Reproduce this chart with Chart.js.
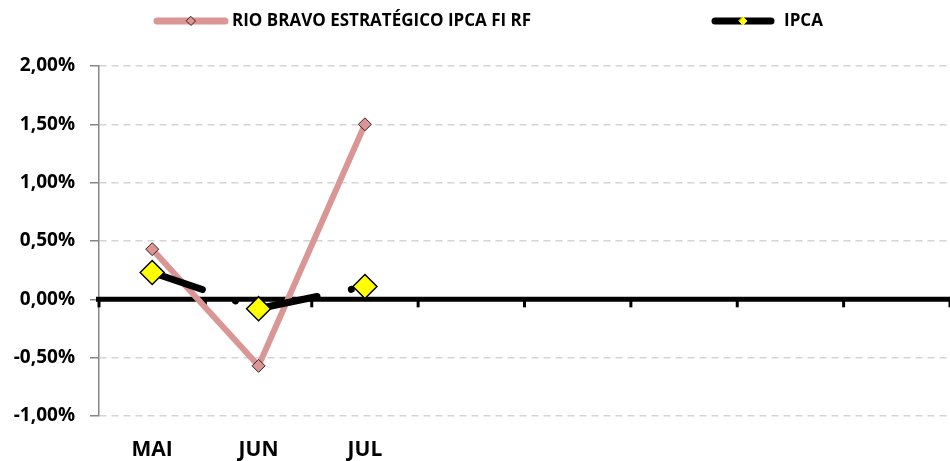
<!DOCTYPE html>
<html>
<head>
<meta charset="utf-8">
<script src="https://cdn.jsdelivr.net/npm/chart.js@4"></script>
<style>
  html, body { margin: 0; padding: 0; background: #fff; }
  #wrap { width: 950px; height: 461px; }
</style>
</head>
<body>
<div id="wrap"><canvas id="myChart"></canvas></div>
<script>
// categorias (meses) - so os tres primeiros tem dados
const meses = ['MAI', 'JUN', 'JUL', '', '', '', '', ''];
const rioBravo = [0.43, -0.57, 1.50];
const ipca = [0.23, -0.08, 0.11];
const yTicks = [-1, -0.5, 0, 0.5, 1, 1.5, 2];

const nomeRio = 'RIO BRAVO ESTRATÉGICO IPCA FI RF';
const nomeIpca = 'IPCA';

const corRio = '#D99694';
const fonte = '"Open Sans", "Liberation Sans", sans-serif';

function fmtPct(v) {
    return v.toFixed(2).replace('.', ',') + '%';
}

function losango(c, x, y, r, fill, stroke) {
    c.save();
    c.beginPath();
    c.moveTo(x, y - r);
    c.lineTo(x + r, y);
    c.lineTo(x, y + r);
    c.lineTo(x - r, y);
    c.closePath();
    c.fillStyle = fill;
    c.fill();
    c.lineWidth = 1;
    c.strokeStyle = stroke;
    c.stroke();
    c.restore();
}

// linha do zero + marcas das categorias
const eixoZero = {
    id: 'eixoZero',
    beforeDatasetsDraw(chart) {
        const c = chart.ctx;
        const area = chart.chartArea;
        const y0 = chart.scales.y.getPixelForValue(0);
        const w = (area.right - area.left) / meses.length;
        c.save();
        c.strokeStyle = '#000';
        c.lineWidth = 3;
        for (let i = 0; i <= meses.length; i++) {
            const x = area.left + i * w;
            c.beginPath();
            c.moveTo(x, y0);
            c.lineTo(x, y0 + 8);
            c.stroke();
        }
        c.lineWidth = 5;
        c.beginPath();
        c.moveTo(area.left - 3, y0);
        c.lineTo(area.right, y0);
        c.stroke();
        c.restore();
    }
};

// legenda estilo excel (linha com marcador no meio)
const legenda = {
    id: 'legenda',
    afterDraw(chart) {
        const c = chart.ctx;
        const y = 21;
        c.save();
        c.lineCap = 'round';
        c.lineWidth = 7;

        c.strokeStyle = corRio;
        c.beginPath();
        c.moveTo(157, y);
        c.lineTo(225, y);
        c.stroke();
        losango(c, 191, y, 4.5, corRio, '#3a2020');

        c.strokeStyle = '#000';
        c.beginPath();
        c.moveTo(715, y);
        c.lineTo(771, y);
        c.stroke();
        losango(c, 743, y, 4, '#FFFF00', '#FFFF00');

        c.fillStyle = '#000';
        c.font = 'bold 17px ' + fonte;
        c.textBaseline = 'middle';
        c.fillText(nomeRio, 232, y, 320);
        c.fillText(nomeIpca, 784, y);
        c.restore();
    }
};

const ctx = document.getElementById('myChart');

new Chart(ctx, {
    type: 'line',
    data: {
        labels: meses,
        datasets: [
            {
                label: nomeRio,
                data: rioBravo,
                borderColor: corRio,
                borderWidth: 6,
                tension: 0,
                pointStyle: 'rectRot',
                pointRadius: 6.5,
                pointBackgroundColor: corRio,
                pointBorderColor: '#3a2020',
                pointBorderWidth: 1,
                order: 2
            },
            {
                label: nomeIpca,
                data: ipca,
                borderColor: '#000',
                borderWidth: 7,
                borderCapStyle: 'round',
                borderDash: [53, 35, 0.1, 31],
                tension: 0,
                pointStyle: 'rectRot',
                pointRadius: 12,
                pointBackgroundColor: '#FFFF00',
                pointBorderColor: '#000',
                pointBorderWidth: 1.5,
                order: 1
            }
        ]
    },
    options: {
        responsive: true,
        maintainAspectRatio: false,
        animation: false,
        layout: { autoPadding: false, padding: { top: 66, right: 0, left: 0, bottom: 0 } },
        plugins: {
            legend: { display: false },
            tooltip: { enabled: false }
        },
        scales: {
            x: {
                offset: true,
                grid: { display: false, drawTicks: false },
                border: { display: false },
                ticks: {
                    color: '#000',
                    font: { family: fonte, size: 21, weight: 'bold' },
                    padding: 21,
                    maxRotation: 0,
                    autoSkip: false
                },
                afterFit(scale) {
                    scale.height = 45;
                    scale.paddingLeft = 0;
                    scale.paddingRight = 0;
                }
            },
            y: {
                min: -1,
                max: 2,
                afterBuildTicks(scale) {
                    scale.ticks = yTicks.map(v => ({ value: v }));
                },
                grid: {
                    color: c => (c.tick && c.tick.value === 0) ? 'rgba(0,0,0,0)' : '#D4D4D4',
                    lineWidth: 1.5,
                    tickLength: 9,
                    tickColor: '#868686',
                    tickWidth: 1.5
                },
                border: { display: true, color: '#868686', width: 1.5, dash: [7, 5] },
                ticks: {
                    color: '#000',
                    font: { family: fonte, size: 19, weight: 'bold' },
                    padding: 15,
                    callback: v => fmtPct(v)
                },
                afterFit(scale) { scale.width = 99; }
            }
        }
    },
    plugins: [eixoZero, legenda]
});
</script>
</body>
</html>
